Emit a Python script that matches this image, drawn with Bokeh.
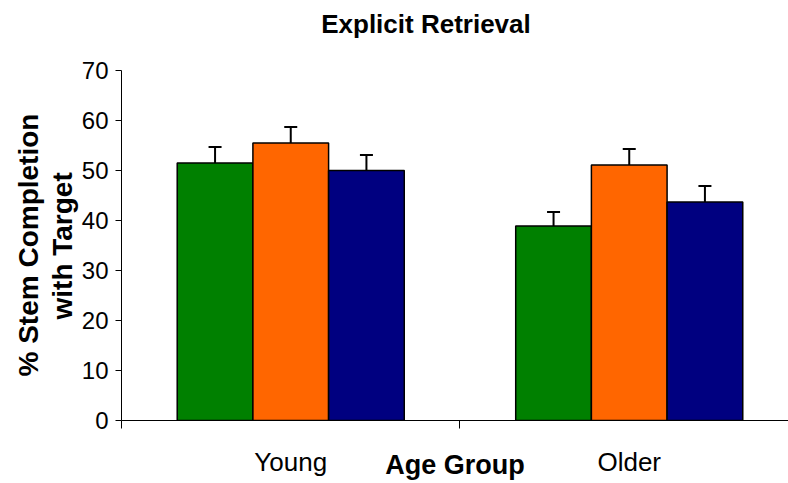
from bokeh.plotting import figure
from bokeh.models import Range1d, FixedTicker, Whisker, TeeHead, ColumnDataSource, Label, Title
from bokeh.embed import file_html
from bokeh.resources import INLINE

# ---- data ----
groups = ["Young", "Older"]
series_names = ["Series 1", "Series 2", "Series 3"]
series_colors = ["#008000", "#FF6600", "#000080"]
young_values = [51.5, 55.5, 50.0]
young_errors = [3.2, 3.2, 3.1]
older_values = [38.9, 51.1, 43.7]
older_errors = [2.8, 3.2, 3.2]
y_ticks = [0, 10, 20, 30, 40, 50, 60, 70]
title_text = "Explicit Retrieval"
x_title = "Age Group"
y_title_lines = ["% Stem Completion", "with Target"]

FONT = "Liberation Sans"

# frame spans the full height above the x axis; y axis itself is bounded to 0..70
p = figure(width=788, height=483, output_backend="svg", toolbar_location=None,
           x_range=Range1d(0, 1.9705), y_range=Range1d(0, 84),
           min_border_left=121, min_border_right=0, min_border_top=0, min_border_bottom=63)
p.outline_line_color = None
p.xgrid.visible = False
p.ygrid.visible = False
p.title.visible = False

bar_w = 0.2236
offsets = [-bar_w, 0.0, bar_w]
centers = [0.5, 1.5]
group_vals = [young_values, older_values]
group_errs = [young_errors, older_errors]

for i, (name, color) in enumerate(zip(series_names, series_colors)):
    xs = [c + offsets[i] for c in centers]
    tops = [gv[i] for gv in group_vals]
    ups = [gv[i] + ge[i] for gv, ge in zip(group_vals, group_errs)]
    src = ColumnDataSource(dict(x=xs, top=tops, upper=ups))
    p.vbar(x="x", top="top", width=bar_w, source=src, fill_color=color,
           line_color="black", line_width=1.5)
    w = Whisker(base="x", lower="top", upper="upper", source=src,
                line_color="black", line_width=2,
                lower_head=None,
                upper_head=TeeHead(size=13, line_color="black", line_width=2))
    p.add_layout(w)

# title (inside the frame, above the bounded y axis)
p.add_layout(Label(x=0.8995, y=79.4, text=title_text, text_align="center",
                   text_baseline="alphabetic", text_font=FONT, text_font_size="26px",
                   text_font_style="bold", text_color="black"))

# y axis
yax = p.yaxis[0]
yax.bounds = (0, 70)
yax.ticker = FixedTicker(ticks=y_ticks)
yax.major_tick_out = 6
yax.major_tick_in = 0
yax.minor_tick_line_color = None
yax.axis_line_color = "black"
yax.major_label_text_font = FONT
yax.major_label_text_font_size = "24px"
yax.major_label_text_color = "black"
yax.major_label_standoff = 7

# y axis title: two side titles, inner line first
for line, off in [(y_title_lines[1], 101), (y_title_lines[0], 44)]:
    p.add_layout(Title(text=line, align="left", offset=off, standoff=1,
                       text_font=FONT, text_font_size="28px", text_font_style="bold",
                       text_color="black"), "left")

# x axis
xax = p.xaxis[0]
xax.ticker = FixedTicker(ticks=centers, minor_ticks=[0, 1, 2])
xax.major_label_overrides = {c: g for c, g in zip(centers, groups)}
xax.major_tick_out = 0
xax.major_tick_in = 0
xax.minor_tick_out = 8
xax.minor_tick_in = 0
xax.minor_tick_line_color = "black"
xax.axis_line_color = "black"
xax.major_label_text_font = FONT
xax.major_label_text_font_size = "26px"
xax.major_label_text_color = "black"
xax.major_label_standoff = 18
xax.axis_label = x_title
xax.axis_label_text_font = FONT
xax.axis_label_text_font_size = "27px"
xax.axis_label_text_font_style = "bold"
xax.axis_label_text_color = "black"
xax.axis_label_standoff = -30

open("out.html", "w").write(file_html(p, INLINE))
